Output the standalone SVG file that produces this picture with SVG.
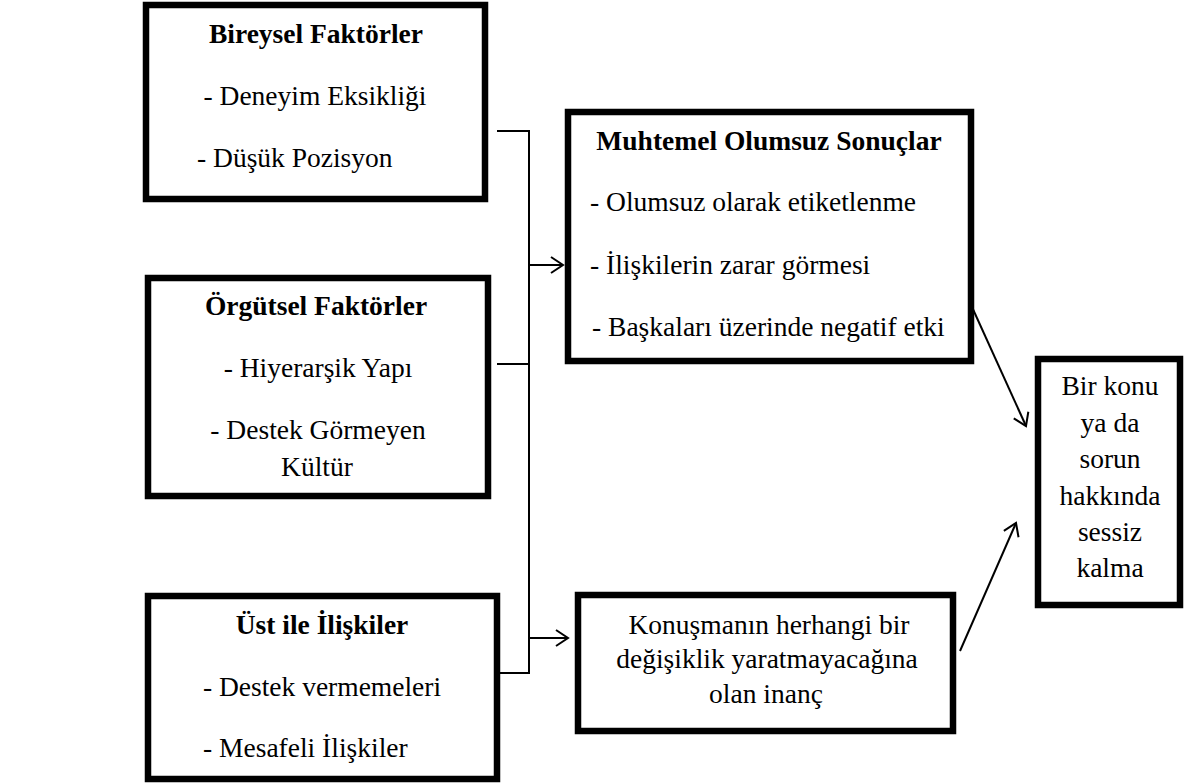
<svg xmlns="http://www.w3.org/2000/svg" width="1189" height="784" viewBox="0 0 1189 784" font-family="'Liberation Serif', 'Times New Roman', serif" font-size="27.5">
<style>
.box{fill:#fff;stroke:#000;stroke-width:6.5}
text{fill:#000}
.b{font-weight:bold}
.c{text-anchor:middle}
.ln{fill:none;stroke:#000;stroke-width:2}
</style>
<defs>
<marker id="ah" markerUnits="userSpaceOnUse" viewBox="-1 -10 15 20" refX="12" refY="0" markerWidth="15" markerHeight="20" orient="auto">
<path d="M0,-8 L12,0 L0,8" fill="none" stroke="#000" stroke-width="2"/>
</marker>
</defs>
<rect width="1189" height="784" fill="#fff"/>
<g id="connectors">
<path class="ln" d="M497,131 H529 V673 H500"/>
<path class="ln" d="M497,364 H529"/>
<path class="ln" d="M529,265 H563" marker-end="url(#ah)"/>
<path class="ln" d="M529,638 H568" marker-end="url(#ah)"/>
<path class="ln" d="M967,296 L1026,426" marker-end="url(#ah)"/>
<path class="ln" d="M960,651 L1016,523" marker-end="url(#ah)"/>
</g>
<g id="bireysel">
<rect class="box" x="146" y="5" width="339" height="194"/>
<text class="b c" x="316" y="43">Bireysel Faktörler</text>
<text class="c" x="315" y="105">- Deneyim Eksikliği</text>
<text x="197" y="167">- Düşük Pozisyon</text>
</g>
<g id="orgutsel">
<rect class="box" x="148" y="278" width="340" height="218"/>
<text class="b c" x="316" y="315">Örgütsel Faktörler</text>
<text class="c" x="318" y="377">- Hiyerarşik Yapı</text>
<text class="c" x="318" y="439">- Destek Görmeyen</text>
<text class="c" x="317" y="476">Kültür</text>
</g>
<g id="ust">
<rect class="box" x="148" y="596" width="349" height="183"/>
<text class="b c" x="322" y="634">Üst ile İlişkiler</text>
<text class="c" x="322" y="696">- Destek vermemeleri</text>
<text x="203" y="757">- Mesafeli İlişkiler</text>
</g>
<g id="sonuclar">
<rect class="box" x="568" y="112" width="403" height="249"/>
<text class="b c" x="769" y="150">Muhtemel Olumsuz Sonuçlar</text>
<text x="590" y="211">- Olumsuz olarak etiketlenme</text>
<text x="590" y="274">- İlişkilerin zarar görmesi</text>
<text x="592" y="336">- Başkaları üzerinde negatif etki</text>
</g>
<g id="inanc">
<rect class="box" x="578" y="595" width="375" height="136"/>
<text class="c" x="769" y="634">Konuşmanın herhangi bir</text>
<text class="c" x="767" y="668">değişiklik yaratmayacağına</text>
<text class="c" x="766" y="703">olan inanç</text>
</g>
<g id="sessiz">
<rect class="box" x="1038" y="359" width="142" height="246"/>
<text class="c" x="1110" y="395">Bir konu</text>
<text class="c" x="1110" y="432">ya da</text>
<text class="c" x="1110" y="468">sorun</text>
<text class="c" x="1110" y="505">hakkında</text>
<text class="c" x="1110" y="541">sessiz</text>
<text class="c" x="1110" y="577">kalma</text>
</g>
</svg>
